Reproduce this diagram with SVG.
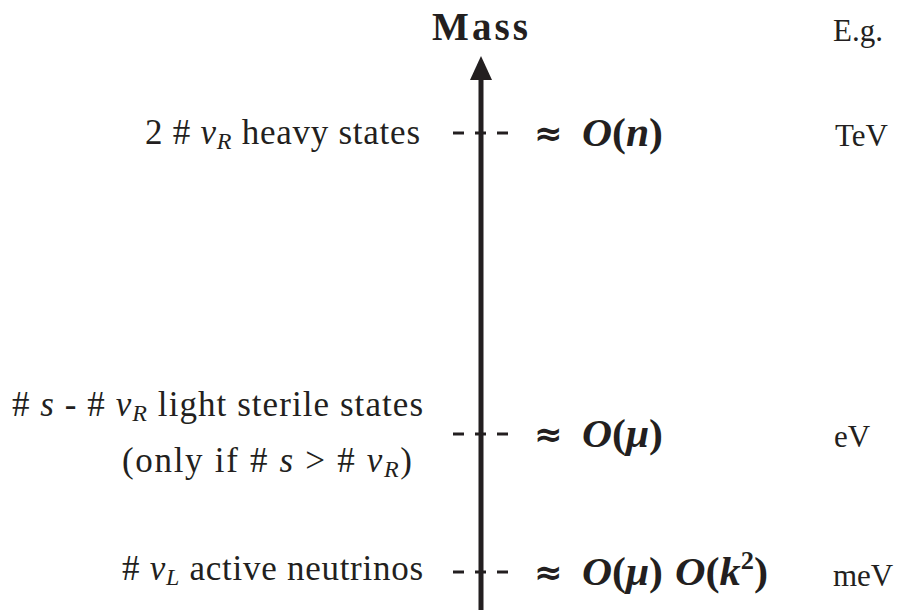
<svg xmlns="http://www.w3.org/2000/svg" width="899" height="610" viewBox="0 0 899 610">
<defs>
<style>
text{font-family:"Liberation Serif","DejaVu Serif",serif;fill:#231f20;}
.lbl{font-size:35px;}
.unit{font-size:31px;}
.math{font-size:40px;font-weight:bold;}
.approx{font-family:"DejaVu Sans",sans-serif;font-size:34px;font-weight:bold;}
.mi{font-style:italic;}
.sub{font-size:24px;font-style:italic;}
.dash{stroke:#231f20;stroke-width:3;}
</style>
<marker id="ah" markerWidth="24" markerHeight="24" refX="0" refY="12" orient="auto" markerUnits="userSpaceOnUse">
<path d="M0,1 L24,12 L0,23 Z" fill="#231f20"/>
</marker>
</defs>
<rect width="899" height="610" fill="#fff"/>
<g id="connectors">
<line x1="481" y1="610" x2="481" y2="80" stroke="#231f20" stroke-width="5" marker-end="url(#ah)"/>
<line class="dash" x1="453" y1="133" x2="464" y2="133"/>
<line class="dash" x1="475" y1="133" x2="486" y2="133"/>
<line class="dash" x1="497" y1="133" x2="508" y2="133"/>
<line class="dash" x1="453" y1="434" x2="464" y2="434"/>
<line class="dash" x1="475" y1="434" x2="486" y2="434"/>
<line class="dash" x1="497" y1="434" x2="508" y2="434"/>
<line class="dash" x1="453" y1="572" x2="464" y2="572"/>
<line class="dash" x1="475" y1="572" x2="486" y2="572"/>
<line class="dash" x1="497" y1="572" x2="508" y2="572"/>
</g>
<g id="axis-title">
<text x="432" y="40" font-size="39" font-weight="bold" textLength="96" lengthAdjust="spacing">Mass</text>
<text class="unit" x="833" y="41">E.g.</text>
</g>
<g id="heavy">
<text class="lbl" x="145" y="144" textLength="275" lengthAdjust="spacing">2 # <tspan class="mi">ν</tspan><tspan class="sub" dy="5">R</tspan><tspan dy="-5"> heavy states</tspan></text>
<text class="approx" x="534" y="145">≈</text>
<text class="math" x="582" y="146" textLength="81" lengthAdjust="spacingAndGlyphs"><tspan class="mi">O</tspan>(<tspan class="mi">n</tspan>)</text>
<text class="unit" x="835" y="146">TeV</text>
</g>
<g id="sterile">
<text class="lbl" x="12" y="416" textLength="411" lengthAdjust="spacing"># <tspan class="mi">s</tspan> - # <tspan class="mi">ν</tspan><tspan class="sub" dy="5">R</tspan><tspan dy="-5"> light sterile states</tspan></text>
<text class="lbl" x="122" y="472" textLength="290" lengthAdjust="spacing">(only if # <tspan class="mi">s</tspan> &gt; # <tspan class="mi">ν</tspan><tspan class="sub" dy="5">R</tspan><tspan dy="-5">)</tspan></text>
<text class="approx" x="534" y="446">≈</text>
<text class="math" x="582" y="447" textLength="81" lengthAdjust="spacingAndGlyphs"><tspan class="mi">O</tspan>(<tspan class="mi">μ</tspan>)</text>
<text class="unit" x="834" y="447">eV</text>
</g>
<g id="active">
<text class="lbl" x="122" y="580" textLength="301" lengthAdjust="spacing"># <tspan class="mi">ν</tspan><tspan class="sub" dy="5">L</tspan><tspan dy="-5"> active neutrinos</tspan></text>
<text class="approx" x="534" y="584">≈</text>
<text class="math" x="582" y="585" textLength="81" lengthAdjust="spacingAndGlyphs"><tspan class="mi">O</tspan>(<tspan class="mi">μ</tspan>)</text>
<text class="math" x="675" y="585" textLength="93" lengthAdjust="spacingAndGlyphs"><tspan class="mi">O</tspan>(<tspan class="mi">k</tspan><tspan font-size="25" dy="-16">2</tspan><tspan dy="16">)</tspan></text>
<text class="unit" x="833" y="586">meV</text>
</g>
</svg>
